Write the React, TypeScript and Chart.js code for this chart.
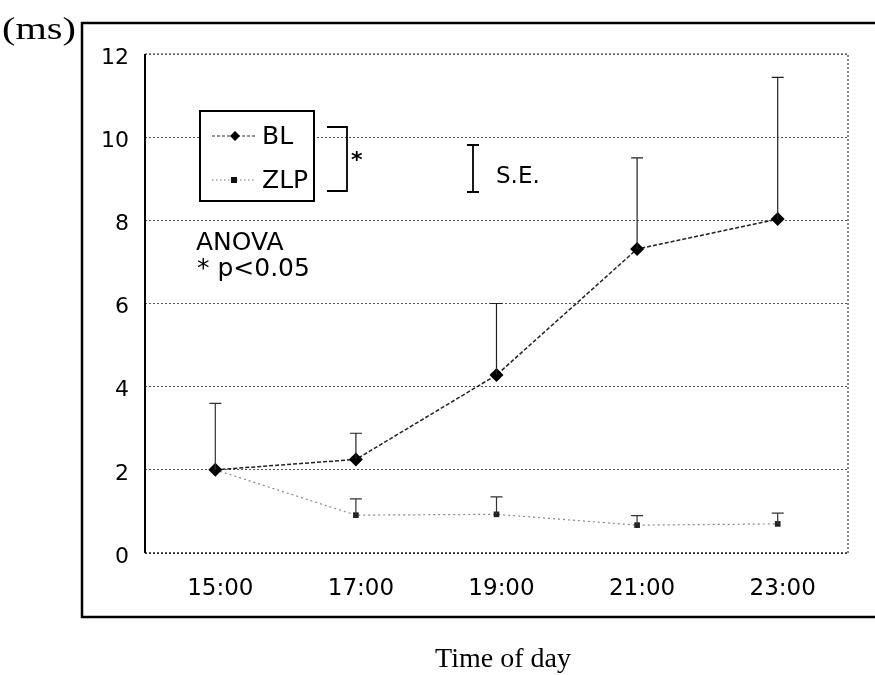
import React, { useEffect, useRef } from 'react';
import { Chart, registerables } from 'chart.js';
Chart.register(...registerables);

const categories = ['15:00', '17:00', '19:00', '21:00', '23:00'];
const blValues = [2.0, 2.25, 4.28, 7.31, 8.03];
const blSE = [0, 0.63, 1.72, 2.19, 3.41];
const zlpValues = [2.0, 0.91, 0.93, 0.67, 0.7];
const zlpSE = [1.6, 0.39, 0.42, 0.23, 0.26];
const yMin = 0;
const yMax = 12;
const yStep = 2;

const SANS = '"DejaVu Sans", sans-serif';
const SERIF = '"Liberation Serif", "DejaVu Serif", serif';

const errorBarPlugin = {
  id: 'errorBars',
  afterDatasetsDraw(chart: any) {
    const ctx = chart.ctx;
    const yScale = chart.scales.y;
    const sets = [
      { idx: 0, vals: blValues, se: blSE, color: '#222' },
      { idx: 1, vals: zlpValues, se: zlpSE, color: '#333' },
    ];
    ctx.save();
    sets.forEach((s) => {
      const meta = chart.getDatasetMeta(s.idx);
      meta.data.forEach((pt: any, i: number) => {
        if (!s.se[i]) return;
        const x = pt.x;
        const y0 = pt.y;
        const y1 = yScale.getPixelForValue(s.vals[i] + s.se[i]);
        ctx.strokeStyle = s.color;
        ctx.lineWidth = 1.2;
        ctx.setLineDash([]);
        ctx.beginPath();
        ctx.moveTo(x, y0);
        ctx.lineTo(x, y1);
        ctx.moveTo(x - 6, y1);
        ctx.lineTo(x + 6, y1);
        ctx.stroke();
      });
    });
    ctx.restore();
  },
};

const decorPlugin = {
  id: 'decor',
  beforeDraw(chart: any) {
    const ctx = chart.ctx;
    ctx.save();
    ctx.fillStyle = '#fff';
    ctx.fillRect(0, 0, chart.width, chart.height);
    // outer frame
    ctx.strokeStyle = '#000';
    ctx.lineWidth = 2.5;
    ctx.beginPath();
    ctx.moveTo(880, 23);
    ctx.lineTo(82, 23);
    ctx.lineTo(82, 617);
    ctx.lineTo(880, 617);
    ctx.stroke();
    ctx.restore();
  },
  afterDraw(chart: any) {
    const ctx = chart.ctx;
    const a = chart.chartArea;
    ctx.save();
    // plot frame
    ctx.setLineDash([2, 2]);
    ctx.strokeStyle = '#666';
    ctx.lineWidth = 1.5;
    ctx.beginPath();
    ctx.moveTo(a.left, a.top);
    ctx.lineTo(a.right, a.top);
    ctx.lineTo(a.right, a.bottom);
    ctx.stroke();
    ctx.strokeStyle = '#222';
    ctx.beginPath();
    ctx.moveTo(a.left, a.bottom);
    ctx.lineTo(a.right, a.bottom);
    ctx.stroke();
    ctx.setLineDash([]);
    ctx.strokeStyle = '#000';
    ctx.lineWidth = 2;
    ctx.beginPath();
    ctx.moveTo(a.left, a.top);
    ctx.lineTo(a.left, a.bottom);
    ctx.stroke();

    // texts
    ctx.fillStyle = '#000';
    ctx.textBaseline = 'alphabetic';
    ctx.textAlign = 'left';
    ctx.save();
    ctx.translate(2, 39);
    ctx.scale(1.3, 1);
    ctx.font = `31px ${SERIF}`;
    ctx.fillText('(ms)', 0, 0);
    ctx.restore();
    ctx.textAlign = 'center';
    ctx.font = `28px ${SERIF}`;
    ctx.fillText('Time of day', 503, 667);

    // legend box
    ctx.textAlign = 'left';
    ctx.fillStyle = '#fff';
    ctx.fillRect(200, 111, 114, 90);
    ctx.strokeStyle = '#000';
    ctx.lineWidth = 2;
    ctx.strokeRect(200, 111, 114, 90);
    // BL entry
    ctx.lineWidth = 1;
    ctx.strokeStyle = '#333';
    ctx.setLineDash([3, 2]);
    ctx.beginPath();
    ctx.moveTo(212, 136);
    ctx.lineTo(255, 136);
    ctx.stroke();
    ctx.setLineDash([]);
    ctx.fillStyle = '#000';
    ctx.beginPath();
    ctx.moveTo(235, 131);
    ctx.lineTo(240, 136);
    ctx.lineTo(235, 141);
    ctx.lineTo(230, 136);
    ctx.closePath();
    ctx.fill();
    // ZLP entry
    ctx.strokeStyle = '#777';
    ctx.setLineDash([1.5, 2.5]);
    ctx.beginPath();
    ctx.moveTo(212, 180);
    ctx.lineTo(255, 180);
    ctx.stroke();
    ctx.setLineDash([]);
    ctx.fillStyle = '#111';
    ctx.fillRect(231, 177, 6, 6);
    ctx.fillStyle = '#000';
    ctx.font = `25px ${SANS}`;
    ctx.textBaseline = 'middle';
    ctx.fillText('BL', 262, 137);
    ctx.fillText('ZLP', 262, 181);

    // bracket
    ctx.strokeStyle = '#000';
    ctx.lineWidth = 1.8;
    ctx.beginPath();
    ctx.moveTo(327, 127);
    ctx.lineTo(347, 127);
    ctx.lineTo(347, 191);
    ctx.lineTo(327, 191);
    ctx.stroke();
    ctx.font = `bold 22px ${SANS}`;
    ctx.fillText('*', 351, 161);

    // S.E. symbol
    ctx.lineWidth = 1.8;
    ctx.beginPath();
    ctx.moveTo(473, 145);
    ctx.lineTo(473, 192);
    ctx.moveTo(467, 145);
    ctx.lineTo(479, 145);
    ctx.moveTo(467, 192);
    ctx.lineTo(479, 192);
    ctx.stroke();
    ctx.font = `23px ${SANS}`;
    ctx.fillText('S.E.', 496, 177);

    // ANOVA text
    ctx.textBaseline = 'alphabetic';
    ctx.font = `25px ${SANS}`;
    ctx.fillText('ANOVA', 196, 250);
    ctx.fillText('* p<0.05', 197, 276);
    ctx.restore();
  },
};

export default function App() {
  const ref = useRef<HTMLCanvasElement | null>(null);
  useEffect(() => {
    if (!ref.current) return;
    const chart = new Chart(ref.current, {
      type: 'line',
      data: {
        labels: categories,
        datasets: [
          {
            label: 'BL',
            data: blValues,
            borderColor: '#222',
            borderWidth: 1.5,
            borderDash: [4, 2],
            pointStyle: 'rectRot',
            pointRadius: 7,
            pointBackgroundColor: '#000',
            pointBorderColor: '#000',
            pointBorderWidth: 0,
            fill: false,
            tension: 0,
            order: 1,
          },
          {
            label: 'ZLP',
            data: zlpValues,
            borderColor: '#888',
            borderWidth: 1.2,
            borderDash: [2, 3],
            pointStyle: 'rect',
            pointRadius: 4,
            pointBackgroundColor: '#222',
            pointBorderColor: '#222',
            pointBorderWidth: 0,
            fill: false,
            tension: 0,
            order: 2,
          },
        ],
      },
      options: {
        responsive: false,
        animation: false,
        layout: { padding: { left: 80, right: 27, top: 54, bottom: 62 } },
        plugins: {
          legend: { display: false },
          tooltip: { enabled: false },
          title: { display: false },
        },
        scales: {
          x: {
            offset: true,
            afterFit: (s: any) => {
              s.height = 60;
            },
            grid: { display: false, drawTicks: false },
            border: { display: false },
            ticks: {
              color: '#000',
              padding: 22,
              labelOffset: 5,
              font: { family: SANS, size: 23 },
            },
          },
          y: {
            min: yMin,
            max: yMax,
            afterFit: (s: any) => {
              s.width = 65;
            },
            grid: { color: '#555', lineWidth: 1, drawTicks: false },
            border: { display: false, dash: [2, 2] },
            ticks: {
              stepSize: yStep,
              color: '#000',
              padding: 16,
              labelOffset: 4,
              font: { family: SANS, size: 22 },
            },
          },
        },
      },
      plugins: [decorPlugin, errorBarPlugin],
    });
    return () => chart.destroy();
  }, []);
  return (
    <div style={{ position: 'absolute', left: 0, top: 0, width: 875, height: 675 }}>
      <canvas ref={ref} width={875} height={675} style={{ width: 875, height: 675 }} />
    </div>
  );
}
